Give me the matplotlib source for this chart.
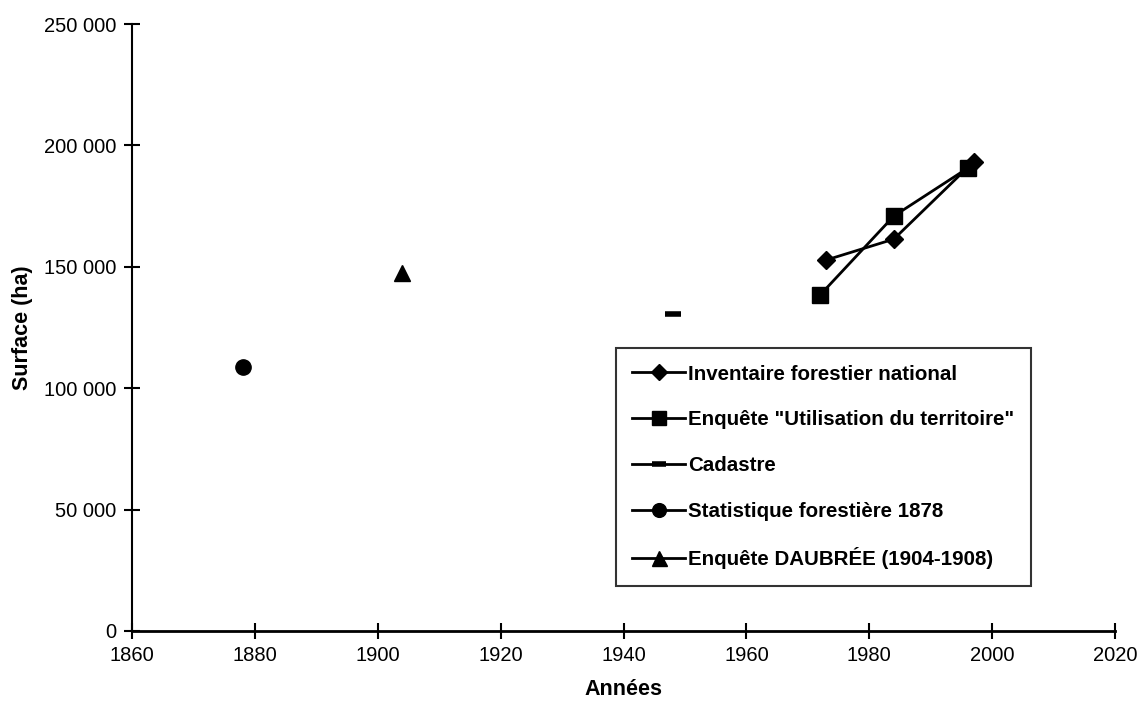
import matplotlib
matplotlib.use('Agg')
import matplotlib.pyplot as plt
from matplotlib.ticker import FuncFormatter, MultipleLocator

plt.rcParams['font.family'] = ['Liberation Sans', 'DejaVu Sans']

# data
ifn_years = [1973, 1984, 1997]
ifn_surf = [152800, 161400, 193300]
teruti_years = [1972, 1984, 1996]
teruti_surf = [138400, 170900, 190600]
cadastre_years = [1948]
cadastre_surf = [130500]
stat1878_years = [1878]
stat1878_surf = [108900]
daubree_years = [1904]
daubree_surf = [147300]

labels = ['Inventaire forestier national',
          'Enquête "Utilisation du territoire"',
          'Cadastre',
          'Statistique forestière 1878',
          'Enquête DAUBRÉE (1904-1908)']

fig = plt.figure(figsize=(11.39, 7.04), dpi=100)
ax = fig.add_axes([132 / 1139, 1 - 631 / 704, 983 / 1139, 607 / 704])

ax.plot(ifn_years, ifn_surf, color='black', lw=2, marker='D', ms=9, label=labels[0])
ax.plot(teruti_years, teruti_surf, color='black', lw=2, marker='s', ms=11, label=labels[1])
ax.plot(cadastre_years, cadastre_surf, color='black', lw=2, marker='_', ms=11, mew=4, label=labels[2])
ax.plot(stat1878_years, stat1878_surf, color='black', lw=2, marker='o', ms=11, label=labels[3])
ax.plot(daubree_years, daubree_surf, color='black', lw=2, marker='^', ms=12, label=labels[4])

ax.set_xlim(1860, 2020)
ax.set_ylim(0, 250000)
ax.xaxis.set_major_locator(MultipleLocator(20))
ax.yaxis.set_major_locator(MultipleLocator(50000))
ax.yaxis.set_major_formatter(FuncFormatter(lambda v, p: '{:,}'.format(int(v)).replace(',', ' ')))

for s in ['top', 'right']:
    ax.spines[s].set_visible(False)
ax.spines['left'].set_linewidth(1.5)
ax.spines['bottom'].set_linewidth(2)
ax.tick_params(direction='inout', length=12, width=1.5, labelsize=14.5, pad=5)

ax.set_xlabel('Années', fontsize=15.5, fontweight='bold', labelpad=10)
ax.set_ylabel('Surface (ha)', fontsize=15.5, fontweight='bold', labelpad=8)

leg = ax.legend(loc='upper left', bbox_to_anchor=(0.4924, 0.466), borderaxespad=0,
                prop={'weight': 'bold', 'size': 14.8}, markerscale=0.9,
                frameon=True, fancybox=False, edgecolor='black', handlelength=2.55,
                handletextpad=0.15, labelspacing=1.3, borderpad=0.8)
leg.get_frame().set_linewidth(1.5)

fig.savefig('out.png', dpi=100)
